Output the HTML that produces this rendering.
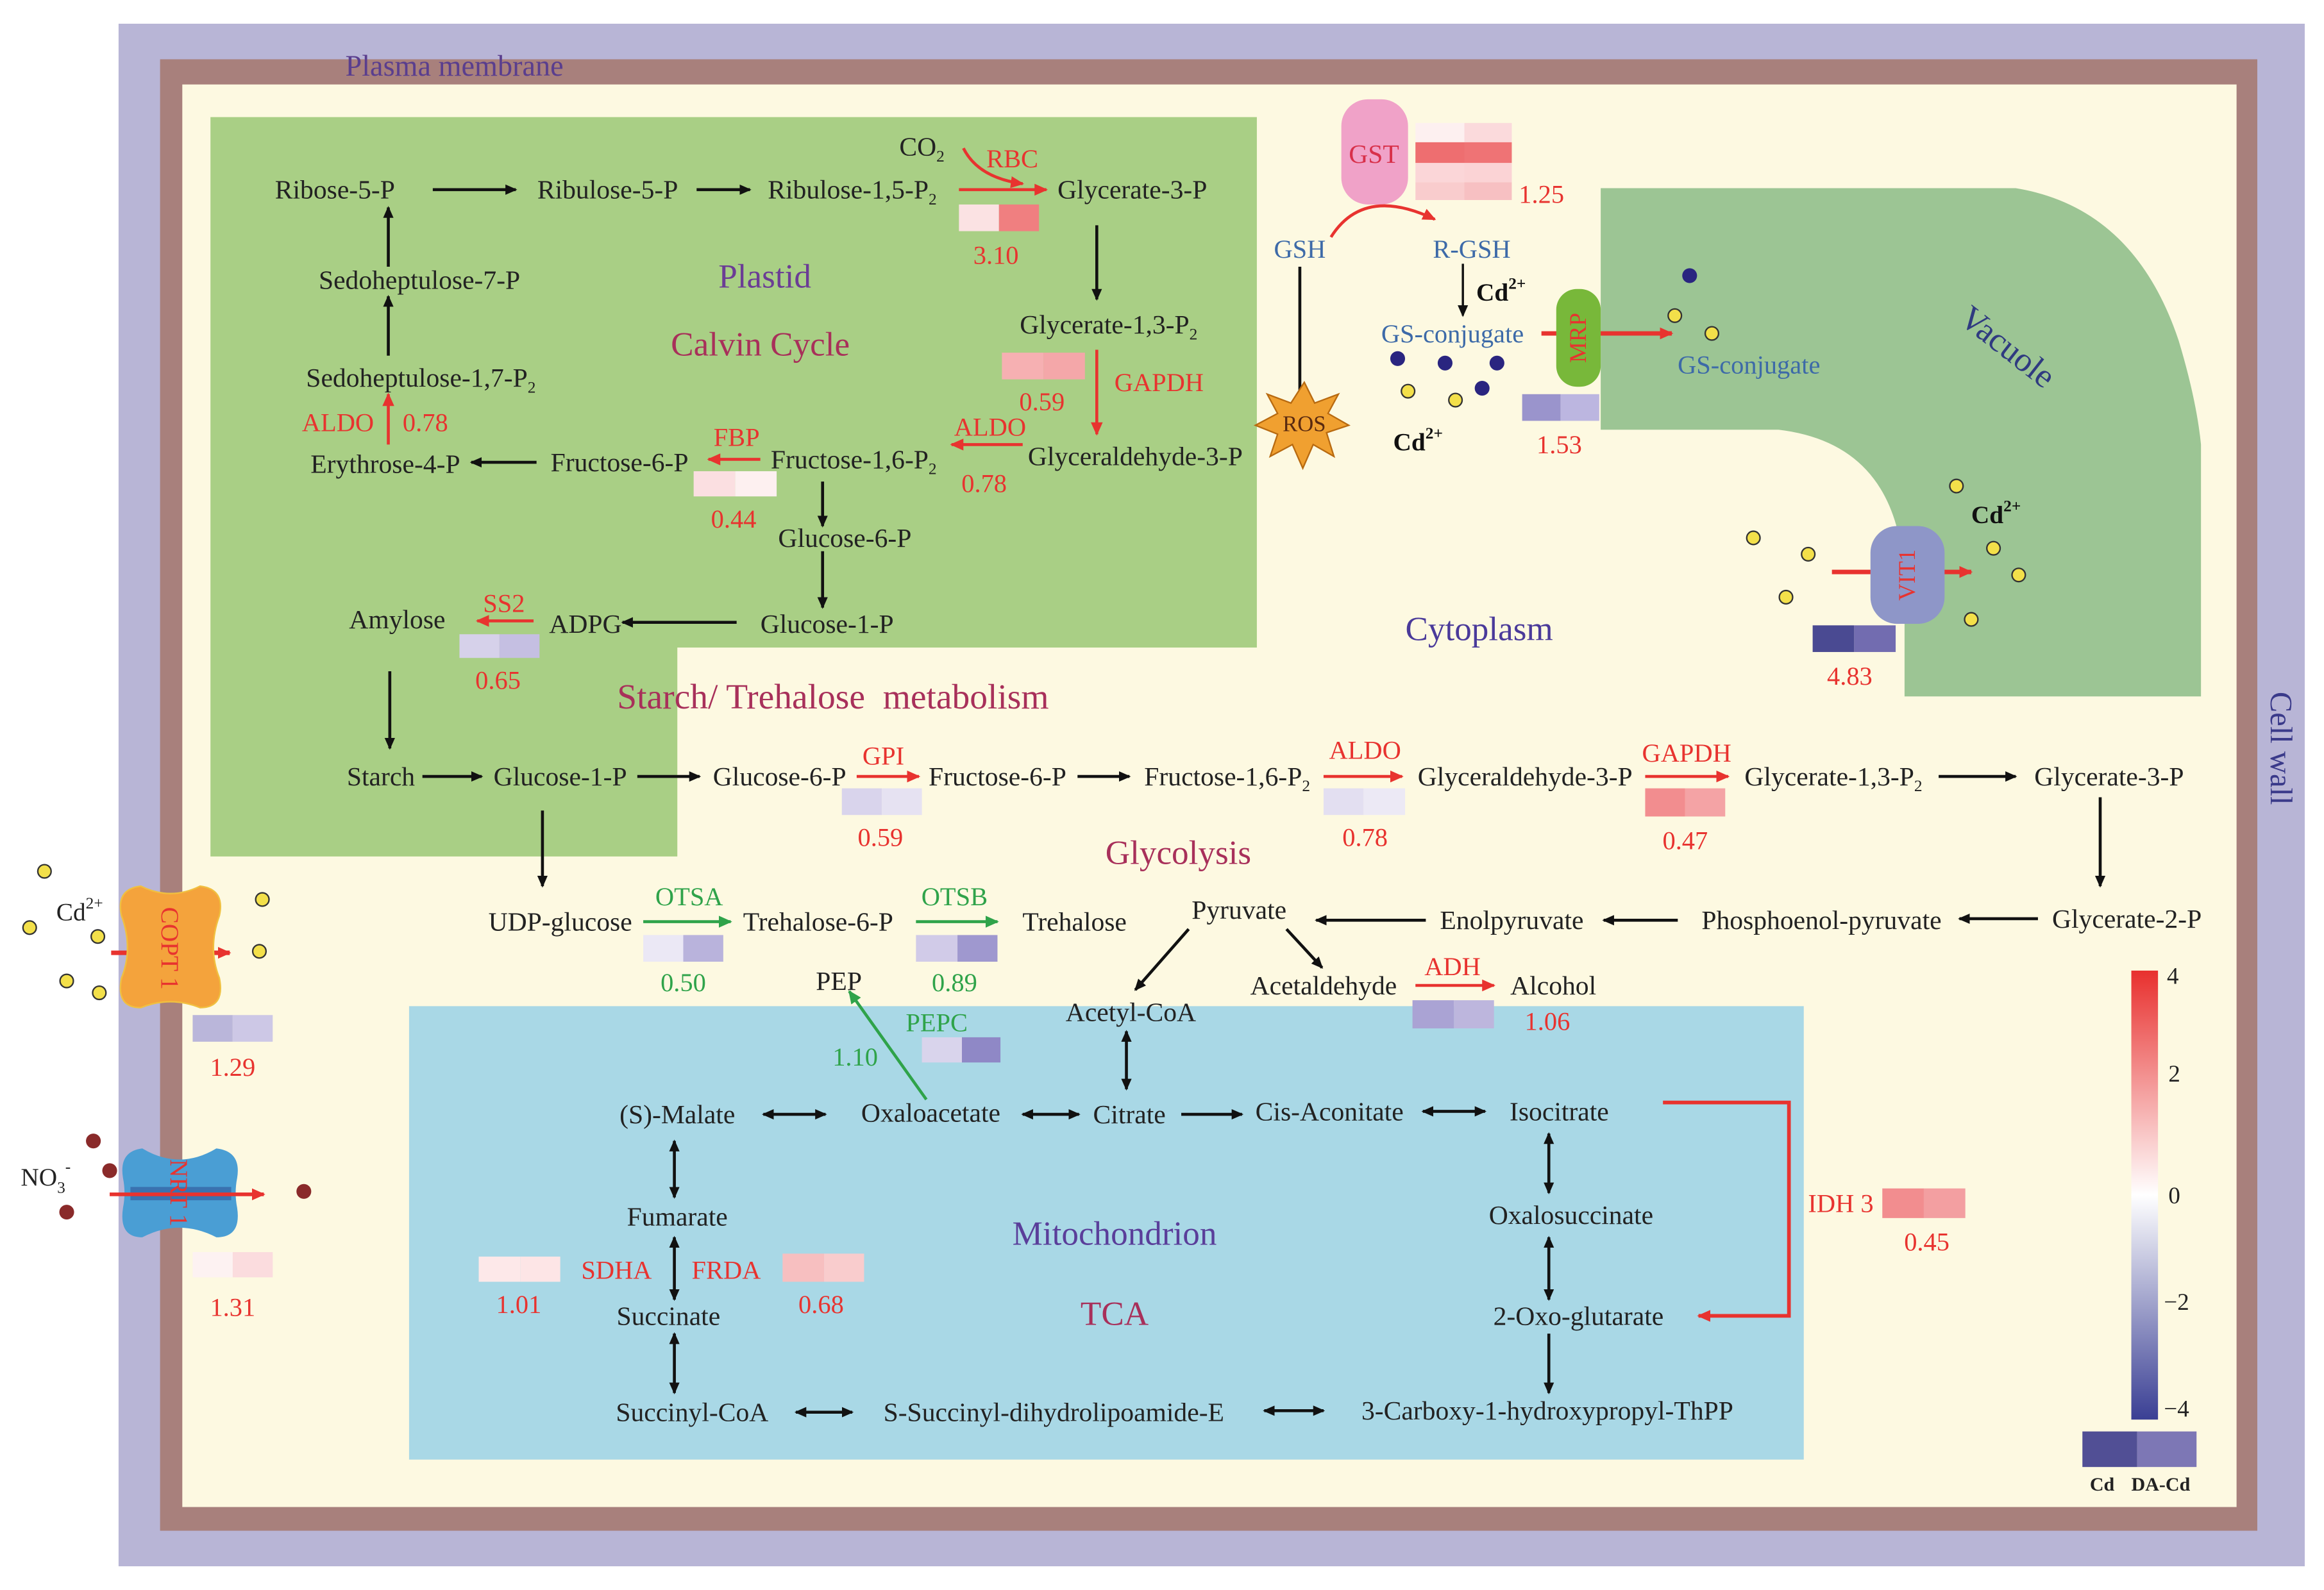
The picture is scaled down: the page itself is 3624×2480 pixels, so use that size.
<!DOCTYPE html>
<html><head><meta charset="utf-8">
<style>
html,body{margin:0;padding:0;background:#fff;}
svg{display:block;}
text{font-family:"Liberation Serif",serif;}
.k{font-size:18px;fill:#222;}
.r{font-size:17.5px;fill:#e8332f;}
.g{font-size:17.5px;fill:#2fa34a;}
.b{font-size:17.5px;fill:#3d6aa8;}
</style></head>
<body>
<svg width="3624" height="2480" viewBox="0 0 1568 1073" preserveAspectRatio="none" xmlns="http://www.w3.org/2000/svg">
<defs>
<marker id="ak" markerWidth="8" markerHeight="8" refX="7" refY="4" orient="auto" markerUnits="userSpaceOnUse"><path d="M0,0.5 L8,4 L0,7.5z" fill="#111"/></marker>
<marker id="ar" markerWidth="9" markerHeight="9" refX="8" refY="4.5" orient="auto" markerUnits="userSpaceOnUse"><path d="M0,0.5 L9,4.5 L0,8.5z" fill="#e8332f"/></marker>
<marker id="ag" markerWidth="9" markerHeight="9" refX="8" refY="4.5" orient="auto" markerUnits="userSpaceOnUse"><path d="M0,0.5 L9,4.5 L0,8.5z" fill="#2fa34a"/></marker>
<marker id="ak2" markerWidth="8" markerHeight="8" refX="1" refY="4" orient="auto" markerUnits="userSpaceOnUse"><path d="M8,0.5 L0,4 L8,7.5z" fill="#111"/></marker>
<linearGradient id="cb" x1="0" y1="0" x2="0" y2="1">
<stop offset="0" stop-color="#e8302e"/><stop offset="0.5" stop-color="#ffffff"/><stop offset="1" stop-color="#3a3f94"/></linearGradient>
</defs>
<rect width="1568" height="1073" fill="#fff"/>
<rect x="80" y="16" width="1475" height="1041" fill="#b8b5d6"/>
<rect x="108" y="40" width="1415" height="993" fill="#a8807c"/>
<rect x="123" y="57" width="1386" height="960" fill="#fdf9e1"/>
<path d="M142,79 H848 V437 H457 V578 H142 Z" fill="#a9cf85"/>
<path d="M1080,127 H1360 Q1440,140 1470,230 Q1482,270 1485,300 L1485,470 H1285 V400 Q1285,300 1200,290 H1080 Z" fill="#9cc594"/>
<rect x="276" y="679" width="941" height="306" fill="#a9d8e6"/>

<text x="233" y="51" font-size="20" fill="#5a3e8e">Plasma membrane</text>
<text x="1532" y="505" font-size="21" fill="#3a3a8a" text-anchor="middle" transform="rotate(90 1532 505)">Cell wall</text>

<g text-anchor="middle">
<text class="k" x="226" y="134">Ribose-5-P</text>
<text class="k" x="410" y="134">Ribulose-5-P</text>
<text class="k" x="575" y="134">Ribulose-1,5-P<tspan font-size="11" dy="4">2</tspan></text>
<text class="k" x="622" y="105">CO<tspan font-size="11" dy="4">2</tspan></text>
<text class="r" x="683" y="113">RBC</text>
<text class="k" x="764" y="134">Glycerate-3-P</text>
<text class="r" x="672" y="178">3.10</text>
<text class="k" x="283" y="195">Sedoheptulose-7-P</text>
<text class="k" x="284" y="261">Sedoheptulose-1,7-P<tspan font-size="11" dy="4">2</tspan></text>
<text class="r" x="228" y="291">ALDO</text><text class="r" x="287" y="291">0.78</text>
<text class="k" x="260" y="319">Erythrose-4-P</text>
<text class="k" x="418" y="318">Fructose-6-P</text>
<text class="r" x="497" y="301">FBP</text>
<text class="r" x="495" y="356">0.44</text>
<text class="k" x="576" y="316">Fructose-1,6-P<tspan font-size="11" dy="4">2</tspan></text>
<text class="r" x="668" y="294">ALDO</text>
<text class="r" x="664" y="332">0.78</text>
<text class="k" x="766" y="314">Glyceraldehyde-3-P</text>
<text class="k" x="748" y="225">Glycerate-1,3-P<tspan font-size="11" dy="4">2</tspan></text>
<text class="r" x="782" y="264">GAPDH</text>
<text class="r" x="703" y="277">0.59</text>
<text x="516" y="194" font-size="23" fill="#6b3d95">Plastid</text>
<text x="513" y="240" font-size="23" fill="#a8305a">Calvin Cycle</text>
<text class="k" x="570" y="369">Glucose-6-P</text>
<text class="k" x="558" y="427">Glucose-1-P</text>
<text class="k" x="395" y="427">ADPG</text>
<text class="k" x="268" y="424">Amylose</text>
<text class="r" x="340" y="413">SS2</text>
<text class="r" x="336" y="465">0.65</text>
<text x="562" y="478" font-size="24" fill="#a8305a" xml:space="preserve">Starch/ Trehalose  metabolism</text>
</g>
<g stroke="#111" stroke-width="2" fill="none" marker-end="url(#ak)">
<line x1="292" y1="128" x2="348" y2="128"/>
<line x1="470" y1="128" x2="506" y2="128"/>
<line x1="262" y1="180" x2="262" y2="140"/>
<line x1="262" y1="240" x2="262" y2="200"/>
<line x1="362" y1="312" x2="318" y2="312"/>
<line x1="740" y1="152" x2="740" y2="202"/>
<line x1="555" y1="325" x2="555" y2="355"/>
<line x1="555" y1="372" x2="555" y2="410"/>
<line x1="497" y1="420" x2="420" y2="420"/>
<line x1="263" y1="453" x2="263" y2="505"/>
</g>
<g stroke="#e8332f" stroke-width="2" fill="none" marker-end="url(#ar)">
<line x1="647" y1="128" x2="706" y2="128"/>
<path d="M650,100 Q660,120 690,124"/>
<line x1="262" y1="300" x2="262" y2="266"/>
<line x1="513" y1="310" x2="478" y2="310"/>
<line x1="690" y1="300" x2="642" y2="300"/>
<line x1="740" y1="236" x2="740" y2="293"/>
<line x1="360" y1="419" x2="322" y2="419"/>
</g>
<rect x="647" y="138" width="27" height="18" fill="#fbe2e3"/><rect x="674" y="138" width="27" height="18" fill="#f07f80"/>
<rect x="676" y="238" width="28" height="18" fill="#f6b0b2"/><rect x="704" y="238" width="28" height="18" fill="#f4a7a9"/>
<rect x="468" y="318" width="28" height="17" fill="#fbdfe1"/><rect x="496" y="318" width="28" height="17" fill="#fdf0f0"/>
<rect x="310" y="428" width="27" height="16" fill="#d6d1ea"/><rect x="337" y="428" width="27" height="16" fill="#c5bfe2"/>

<g text-anchor="middle">
<text class="k" x="257" y="530">Starch</text>
<text class="k" x="378" y="530">Glucose-1-P</text>
<text class="k" x="526" y="530">Glucose-6-P</text>
<text class="r" x="596" y="516">GPI</text>
<text class="r" x="594" y="571">0.59</text>
<text class="k" x="673" y="530">Fructose-6-P</text>
<text class="k" x="828" y="530">Fructose-1,6-P<tspan font-size="11" dy="4">2</tspan></text>
<text class="r" x="921" y="512">ALDO</text>
<text class="r" x="921" y="571">0.78</text>
<text class="k" x="1029" y="530">Glyceraldehyde-3-P</text>
<text class="r" x="1138" y="514">GAPDH</text>
<text class="r" x="1137" y="573">0.47</text>
<text class="k" x="1237" y="530">Glycerate-1,3-P<tspan font-size="11" dy="4">2</tspan></text>
<text class="k" x="1423" y="530">Glycerate-3-P</text>
<text x="795" y="583" font-size="23" fill="#a8305a">Glycolysis</text>
<text class="k" x="1435" y="626">Glycerate-2-P</text>
<text class="k" x="1229" y="627">Phosphoenol-pyruvate</text>
<text class="k" x="1020" y="627">Enolpyruvate</text>
<text class="k" x="836" y="620">Pyruvate</text>
<text class="k" x="378" y="628">UDP-glucose</text>
<text class="g" x="465" y="611">OTSA</text>
<text class="k" x="552" y="628">Trehalose-6-P</text>
<text class="g" x="461" y="669">0.50</text>
<text class="g" x="644" y="611">OTSB</text>
<text class="k" x="725" y="628">Trehalose</text>
<text class="g" x="644" y="669">0.89</text>
<text class="k" x="566" y="668">PEP</text>
<text class="g" x="632" y="696">PEPC</text>
<text class="g" x="577" y="719">1.10</text>
<text class="k" x="763" y="689">Acetyl-CoA</text>
<text class="k" x="893" y="671">Acetaldehyde</text>
<text class="r" x="980" y="658">ADH</text>
<text class="k" x="1048" y="671">Alcohol</text>
<text class="r" x="1044" y="695">1.06</text>
</g>
<g stroke="#111" stroke-width="2" fill="none" marker-end="url(#ak)">
<line x1="285" y1="524" x2="325" y2="524"/>
<line x1="430" y1="524" x2="472" y2="524"/>
<line x1="727" y1="524" x2="762" y2="524"/>
<line x1="1308" y1="524" x2="1360" y2="524"/>
<line x1="1417" y1="538" x2="1417" y2="598"/>
<line x1="1375" y1="620" x2="1322" y2="620"/>
<line x1="1132" y1="621" x2="1082" y2="621"/>
<line x1="962" y1="621" x2="888" y2="621"/>
<line x1="366" y1="547" x2="366" y2="598"/>
<line x1="802" y1="627" x2="766" y2="668"/>
<line x1="868" y1="627" x2="892" y2="653"/>
</g>
<g stroke="#e8332f" stroke-width="2" fill="none" marker-end="url(#ar)">
<line x1="578" y1="524" x2="620" y2="524"/>
<line x1="893" y1="524" x2="946" y2="524"/>
<line x1="1110" y1="524" x2="1166" y2="524"/>
<line x1="955" y1="665" x2="1008" y2="665"/>
</g>
<g stroke="#2fa34a" stroke-width="2" fill="none" marker-end="url(#ag)">
<line x1="434" y1="622" x2="493" y2="622"/>
<line x1="618" y1="622" x2="673" y2="622"/>
<line x1="625" y1="742" x2="573" y2="669"/>
</g>
<rect x="568" y="532" width="27" height="18" fill="#d9d4ec"/><rect x="595" y="532" width="27" height="18" fill="#e6e2f2"/>
<rect x="893" y="532" width="27" height="18" fill="#e3dff1"/><rect x="920" y="532" width="28" height="18" fill="#ece9f5"/>
<rect x="1110" y="532" width="27" height="19" fill="#f28d8f"/><rect x="1137" y="532" width="27" height="19" fill="#f4a3a5"/>
<rect x="434" y="631" width="27" height="18" fill="#ebe8f5"/><rect x="461" y="631" width="27" height="18" fill="#b9b3dc"/>
<rect x="618" y="631" width="28" height="18" fill="#d1cbe8"/><rect x="646" y="631" width="27" height="18" fill="#9f98cf"/>
<rect x="622" y="700" width="27" height="17" fill="#d9d4ec"/><rect x="649" y="700" width="26" height="17" fill="#8f88c6"/>
<rect x="953" y="675" width="28" height="19" fill="#aaa3d4"/><rect x="981" y="675" width="27" height="19" fill="#bdb6dd"/>

<g text-anchor="middle">
<text class="k" x="457" y="758">(S)-Malate</text>
<text class="k" x="628" y="757">Oxaloacetate</text>
<text class="k" x="762" y="758">Citrate</text>
<text class="k" x="897" y="756">Cis-Aconitate</text>
<text class="k" x="1052" y="756">Isocitrate</text>
<text class="r" x="1242" y="818">IDH 3</text>
<text class="r" x="1300" y="844">0.45</text>
<text x="752" y="840" font-size="23" fill="#5a3e9a">Mitochondrion</text>
<text x="752" y="894" font-size="23" fill="#a8305a">TCA</text>
<text class="k" x="457" y="827">Fumarate</text>
<text class="k" x="451" y="894">Succinate</text>
<text class="r" x="416" y="863">SDHA</text>
<text class="r" x="490" y="863">FRDA</text>
<text class="r" x="350" y="886">1.01</text>
<text class="r" x="554" y="886">0.68</text>
<text class="k" x="467" y="959">Succinyl-CoA</text>
<text class="k" x="711" y="959">S-Succinyl-dihydrolipoamide-E</text>
<text class="k" x="1044" y="958">3-Carboxy-1-hydroxypropyl-ThPP</text>
<text class="k" x="1060" y="826">Oxalosuccinate</text>
<text class="k" x="1065" y="894">2-Oxo-glutarate</text>
</g>
<g stroke="#111" stroke-width="2" fill="none" marker-end="url(#ak)" marker-start="url(#ak2)">
<line x1="760" y1="696" x2="760" y2="735"/>
<line x1="515" y1="752" x2="557" y2="752"/>
<line x1="690" y1="752" x2="728" y2="752"/>
<line x1="960" y1="750" x2="1002" y2="750"/>
<line x1="455" y1="770" x2="455" y2="808"/>
<line x1="455" y1="835" x2="455" y2="877"/>
<line x1="455" y1="900" x2="455" y2="940"/>
<line x1="537" y1="953" x2="575" y2="953"/>
<line x1="853" y1="952" x2="893" y2="952"/>
<line x1="1045" y1="765" x2="1045" y2="805"/>
<line x1="1045" y1="835" x2="1045" y2="877"/>
</g>
<g stroke="#111" stroke-width="2" fill="none" marker-end="url(#ak)">
<line x1="797" y1="752" x2="838" y2="752"/>
<line x1="1045" y1="900" x2="1045" y2="940"/>
</g>
<path d="M1122,744 H1207 V888 H1146" stroke="#e8332f" stroke-width="2.5" fill="none" marker-end="url(#ar)"/>
<rect x="1270" y="802" width="28" height="20" fill="#f28d8f"/><rect x="1298" y="802" width="28" height="20" fill="#f39fa1"/>
<rect x="323" y="848" width="28" height="17" fill="#fde8e9"/><rect x="351" y="848" width="27" height="17" fill="#fde5e6"/>
<rect x="528" y="846" width="28" height="19" fill="#f7bfc0"/><rect x="556" y="846" width="27" height="19" fill="#f9cccd"/>

<rect x="905" y="67" width="45" height="71" rx="18" fill="#f0a2c8"/>
<text x="927" y="110" font-size="18" fill="#d8304a" text-anchor="middle">GST</text>
<rect x="955" y="83" width="33" height="13" fill="#fdf0f0"/><rect x="988" y="83" width="32" height="13" fill="#fbdadc"/>
<rect x="955" y="96" width="33" height="14" fill="#ee6e70"/><rect x="988" y="96" width="32" height="14" fill="#ef7375"/>
<rect x="955" y="110" width="33" height="13" fill="#fbd6d8"/><rect x="988" y="110" width="32" height="13" fill="#fbd3d5"/>
<rect x="955" y="123" width="33" height="12" fill="#f9cccd"/><rect x="988" y="123" width="32" height="12" fill="#f7c0c2"/>
<text class="r" x="1040" y="137" text-anchor="middle">1.25</text>
<path d="M898,160 Q920,125 968,148" stroke="#e8332f" stroke-width="2" fill="none" marker-end="url(#ar)"/>
<text class="b" x="877" y="174" text-anchor="middle">GSH</text>
<text class="b" x="993" y="174" text-anchor="middle">R-GSH</text>
<line x1="877" y1="180" x2="877" y2="272" stroke="#111" stroke-width="2"/>
<line x1="870" y1="273" x2="884" y2="273" stroke="#111" stroke-width="2"/>
<line x1="987" y1="178" x2="987" y2="213" stroke="#111" stroke-width="1.5" marker-end="url(#ak)"/>
<text x="996" y="203" font-size="17" font-weight="bold" fill="#111">Cd<tspan font-size="11" dy="-8">2+</tspan></text>
<text class="b" x="980" y="231" text-anchor="middle">GS-conjugate</text>
<path d="M880,258 L887,272 L903,266 L896,279 L910,287 L895,292 L900,308 L886,300 L879,316 L872,300 L857,308 L862,293 L847,287 L862,279 L855,266 L871,272 Z" fill="#f0a030" stroke="#b86a10" stroke-width="1"/>
<text x="880" y="291" font-size="15" fill="#5a2a10" text-anchor="middle">ROS</text>
<text x="940" y="304" font-size="17" font-weight="bold" fill="#111">Cd<tspan font-size="11" dy="-8">2+</tspan></text>
<g fill="#2a2580">
<circle cx="943" cy="242" r="5"/><circle cx="975" cy="245" r="5"/><circle cx="1010" cy="245" r="5"/><circle cx="1000" cy="262" r="5"/><circle cx="1140" cy="186" r="5"/>
</g>
<g fill="#f3e04a" stroke="#333" stroke-width="1">
<circle cx="950" cy="264" r="4.5"/><circle cx="982" cy="270" r="4.5"/><circle cx="1130" cy="213" r="4.5"/><circle cx="1155" cy="225" r="4.5"/>
<circle cx="1183" cy="363" r="4.5"/><circle cx="1220" cy="374" r="4.5"/><circle cx="1205" cy="403" r="4.5"/><circle cx="1320" cy="328" r="4.5"/><circle cx="1345" cy="370" r="4.5"/><circle cx="1362" cy="388" r="4.5"/><circle cx="1330" cy="418" r="4.5"/>
<circle cx="30" cy="588" r="4.5"/><circle cx="20" cy="626" r="4.5"/><circle cx="66" cy="632" r="4.5"/><circle cx="45" cy="662" r="4.5"/><circle cx="67" cy="670" r="4.5"/><circle cx="177" cy="607" r="4.5"/><circle cx="175" cy="642" r="4.5"/>
</g>
<line x1="1040" y1="225" x2="1052" y2="225" stroke="#e8332f" stroke-width="3"/>
<line x1="1078" y1="225" x2="1128" y2="225" stroke="#e8332f" stroke-width="3" marker-end="url(#ar)"/>
<rect x="1050" y="195" width="30" height="66" rx="14" fill="#78b83a"/>
<text x="1065" y="228" font-size="16" fill="#e8332f" text-anchor="middle" transform="rotate(-90 1065 228)" dy="5">MRP</text>
<text class="b" x="1180" y="252" text-anchor="middle">GS-conjugate</text>
<rect x="1027" y="266" width="26" height="18" fill="#9a94cc"/><rect x="1053" y="266" width="26" height="18" fill="#bcb6e0"/>
<text class="r" x="1052" y="306" text-anchor="middle">1.53</text>
<text x="1350" y="240" font-size="23" fill="#2f3a80" text-anchor="middle" transform="rotate(38 1350 240)">Vacuole</text>
<text x="998" y="432" font-size="23" fill="#4a3a9a" text-anchor="middle">Cytoplasm</text>
<line x1="1236" y1="386" x2="1330" y2="386" stroke="#e8332f" stroke-width="3" marker-end="url(#ar)"/>
<rect x="1262" y="355" width="50" height="66" rx="18" fill="#8e96c8"/>
<text x="1287" y="388" font-size="16" fill="#e8332f" text-anchor="middle" transform="rotate(-90 1287 388)" dy="5">VIT1</text>
<text x="1330" y="353" font-size="17" font-weight="bold" fill="#111">Cd<tspan font-size="11" dy="-8">2+</tspan></text>
<rect x="1223" y="422" width="28" height="18" fill="#4a4a92"/><rect x="1251" y="422" width="28" height="18" fill="#726cb0"/>
<text class="r" x="1248" y="462" text-anchor="middle">4.83</text>

<text x="38" y="621" font-size="17" fill="#222">Cd<tspan font-size="11" dy="-8">2+</tspan></text>
<line x1="75" y1="643" x2="155" y2="643" stroke="#e8332f" stroke-width="3" marker-end="url(#ar)"/>
<path d="M95,598 Q115,608 135,598 Q152,600 148,618 Q140,640 148,660 Q152,680 135,680 Q115,672 95,680 Q78,680 82,660 Q90,640 82,618 Q78,600 95,598Z" fill="#f4a33c" stroke="#f0c040" stroke-width="1"/>
<text x="115" y="640" font-size="17" fill="#e8332f" text-anchor="middle" transform="rotate(90 115 640)" dy="6">COPT 1</text>
<rect x="130" y="685" width="27" height="18" fill="#bab6da"/><rect x="157" y="685" width="27" height="18" fill="#cdc8e6"/>
<text class="r" x="157" y="726" text-anchor="middle">1.29</text>
<text x="14" y="800" font-size="17" fill="#222">NO<tspan font-size="11" dy="5">3</tspan><tspan font-size="11" dy="-14">-</tspan></text>
<g fill="#8a2a2a"><circle cx="63" cy="770" r="5"/><circle cx="74" cy="790" r="5"/><circle cx="45" cy="818" r="5"/><circle cx="205" cy="804" r="5"/></g>
<path d="M96,775 Q121,790 146,775 Q163,777 160,795 Q158,805 160,815 Q163,835 146,835 Q121,822 96,835 Q80,835 83,815 Q85,805 83,795 Q80,777 96,775Z" fill="#4a9ed4"/>
<rect x="88" y="801" width="68" height="9" fill="#3a72b0"/>
<line x1="74" y1="806" x2="178" y2="806" stroke="#e8332f" stroke-width="2.5" marker-end="url(#ar)"/>
<text x="121" y="805" font-size="17" fill="#e8332f" text-anchor="middle" transform="rotate(90 121 805)" dy="6">NRT 1</text>
<rect x="130" y="845" width="27" height="17" fill="#fdf2f2"/><rect x="157" y="845" width="27" height="17" fill="#fbdcde"/>
<text class="r" x="157" y="888" text-anchor="middle">1.31</text>

<rect x="1438" y="655" width="18" height="303" fill="url(#cb)"/>
<g font-size="16" fill="#222">
<text x="1462" y="664">4</text><text x="1463" y="730">2</text><text x="1463" y="812">0</text><text x="1460" y="884">−2</text><text x="1460" y="956">−4</text>
</g>
<rect x="1405" y="966" width="37" height="24" fill="#514f95"/><rect x="1442" y="966" width="40" height="24" fill="#7d77b5"/>
<text x="1410" y="1006" font-size="13" font-weight="bold" fill="#222">Cd</text>
<text x="1438" y="1006" font-size="13" font-weight="bold" fill="#222">DA-Cd</text>
</svg>
</body></html>
